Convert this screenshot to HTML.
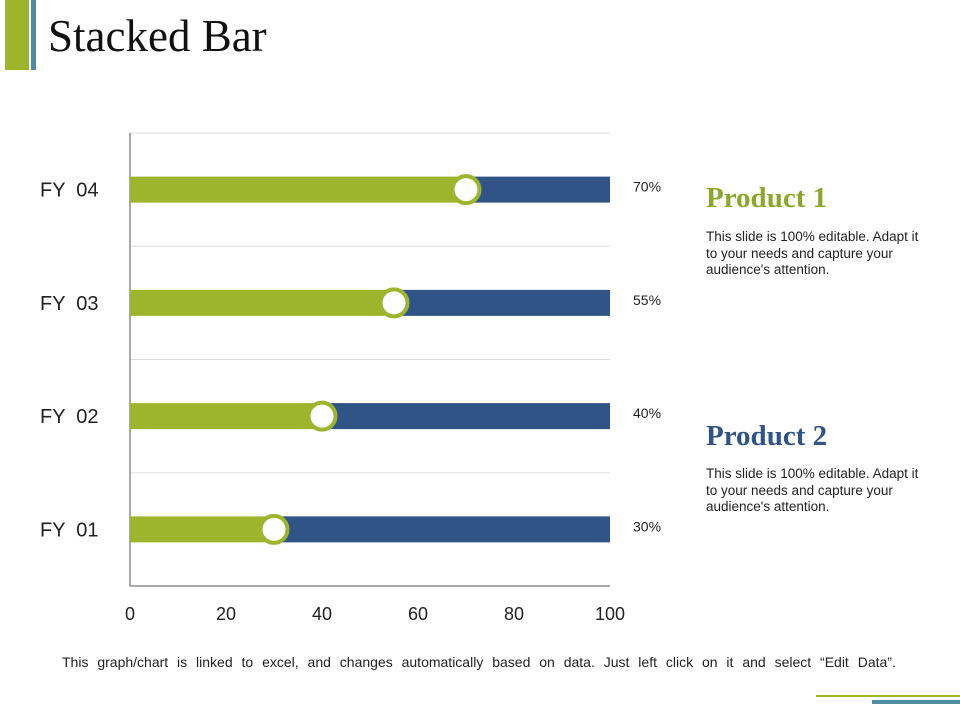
<!DOCTYPE html>
<html><head><meta charset="utf-8"><style>
body{margin:0;width:960px;height:720px;background:#fff;position:relative;overflow:hidden;font-family:"Liberation Sans",sans-serif}
.abs{position:absolute}
</style></head><body>
<div class="abs" style="left:5px;top:0;width:24px;height:70px;background:#9db52c"></div>
<div class="abs" style="left:31px;top:0;width:5px;height:70px;background:#4f8ea0"></div>
<div class="abs" style="left:48px;top:10px;font-family:'Liberation Serif',serif;font-size:45px;color:#111">Stacked Bar</div>
<svg class="abs" style="left:0;top:0" width="960" height="720" id="chart"></svg>
<div class="abs" style="left:706px;top:182px;font-family:'Liberation Serif',serif;font-weight:bold;font-size:29px;color:#8ca82a">Product 1</div>
<div class="abs" style="left:706px;top:229px;width:218px;font-size:13.5px;line-height:16.5px;color:#222">This slide is 100% editable. Adapt it to your needs and capture your audience's attention.</div>
<div class="abs" style="left:706px;top:420px;font-family:'Liberation Serif',serif;font-weight:bold;font-size:29px;color:#2f5485">Product 2</div>
<div class="abs" style="left:706px;top:466px;width:218px;font-size:13.5px;line-height:16.5px;color:#222">This slide is 100% editable. Adapt it to your needs and capture your audience's attention.</div>
<div class="abs" style="left:62px;top:654px;font-size:14px;word-spacing:5px;white-space:nowrap;color:#222">This graph/chart is linked to excel, and changes automatically based on data. Just left click on it and select “Edit Data”.</div>
<div class="abs" style="left:816px;top:695px;width:144px;height:2px;background:#9db52c"></div>
<div class="abs" style="left:872px;top:700px;width:88px;height:4px;background:#4f8ea0"></div>
<script>
const categories=["FY  01","FY  02","FY  03","FY  04"];
const product1=[30,40,55,70];
const product2=[70,60,45,30];
const labels=["30%","40%","55%","70%"];
const xTicks=[0,20,40,60,80,100];
const svg=document.getElementById('chart');
const NS='http://www.w3.org/2000/svg';
const x0=130,x1=610,yTop=133,yBot=586;
const xs=v=>x0+(v/100)*(x1-x0);
const band=(yBot-yTop)/categories.length;
const yc=i=>yBot-band*(i+0.5);
function mk(t,a){const e=document.createElementNS(NS,t);for(const k in a)e.setAttribute(k,a[k]);svg.appendChild(e);return e;}
for(let i=0;i<=categories.length;i++){
  const g=mk('line',{x1:x0,x2:x1,y1:yTop+band*i,y2:yTop+band*i,stroke:i==categories.length?'#555':'#ddd','stroke-width':1});
  
  
}
const ax=mk('line',{x1:x0,x2:x0,y1:yTop,y2:yBot,stroke:'#555','stroke-width':1});


xTicks.forEach(v=>{
  const t=mk('text',{x:xs(v),y:620,'text-anchor':'middle','font-size':18,fill:'#222','font-family':'Liberation Sans'});
  t.textContent=v;
  
  
});
categories.forEach((c,i)=>{
  const y=yc(i);
  const l=mk('text',{x:40,y:y+7,'font-size':20,fill:'#222','font-family':'Liberation Sans',style:'white-space:pre'});
  l.textContent=c;
  
  
  const b2=mk('rect',{x:xs(product1[i]),y:y-13,width:xs(product1[i]+product2[i])-xs(product1[i]),height:26,fill:'#2f5485'});
  
  
  const b1=mk('rect',{x:x0,y:y-13,width:xs(product1[i])-x0,height:26,fill:'#9db52c'});
  
  
  const m=mk('circle',{cx:xs(product1[i]),cy:y,r:13.5,fill:'#fff',stroke:'#9db52c','stroke-width':4});
  
  
  const v=mk('text',{x:633,y:y+2,'font-size':14,fill:'#222','font-family':'Liberation Sans'});
  v.textContent=labels[i];
  
  
});
</script>
</body></html>
